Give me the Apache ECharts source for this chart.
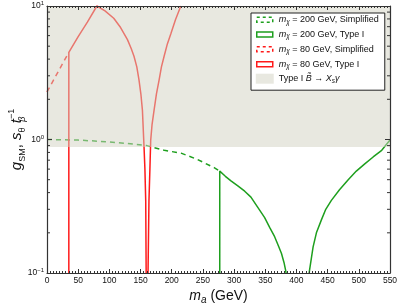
<!DOCTYPE html>
<html><head><meta charset="utf-8">
<script src="https://cdn.jsdelivr.net/npm/echarts@6/dist/echarts.min.js"></script>
<style>html,body{margin:0;padding:0;background:#fff}#c{width:399px;height:307px}</style>
</head><body><div id="c"></div>
<script>
// ---- data ----
var xTicks = [0, 550, 50];            // min, max, step
var yRange = [0.1, 10];
var yMinorTicks = [0.2,0.3,0.4,0.5,0.6,0.7,0.8,0.9,2,3,4,5,6,7,8,9];
var seriesNames = ['mχ = 200 GeV, Simplified','mχ = 200 GeV, Type I','mχ = 80 GeV, Simplified','mχ = 80 GeV, Type I','Type I B̃ → Xsγ'];
var green200Simplified = [[0,1.0],[50,0.99],[100,0.96],[142,0.92],[160,0.9],[188,0.83],[215,0.79],[241,0.71],[268,0.615],[277,0.58]];
var green200TypeI = [[277,0.1],[277,0.58],[286,0.53],[295,0.49],[306,0.45],[317,0.41],[327,0.37],[338,0.31],[349,0.26],[357,0.22],[365,0.187],[371,0.16],[376,0.14],[380,0.12],[382.6,0.105],[385,0.09],[402,0.01],
  [419,0.09],[421,0.105],[424,0.13],[426.7,0.157],[432,0.2],[440,0.25],[447,0.3],[456,0.35],[469,0.42],[483,0.5],[496,0.58],[510,0.66],[523,0.74],[536.7,0.83],[550,0.99]];
var red80Simplified = [[0,2.27],[35,4.5]];
var red80TypeI = [[35,0.1],[35,4.5],[50,5.9],[65,7.6],[80,10],[93,9.2],[107,8.1],[118,6.9],[129,5.6],[135,4.8],[139.5,4.2],[144,3.5],[147.5,2.8],[150.5,2.2],[153,1.66],[155.6,0.88],[157,0.6],[158.3,0.35],[159,0.1],[160.5,0.01],
  [162,0.1],[163.5,0.35],[165,0.6],[166.3,0.99],[168.5,1.3],[171.7,1.66],[175.5,2.2],[179.8,2.8],[183.5,3.5],[187.8,4.2],[193,5.2],[198.6,6.2],[206,7.9],[214.6,10]];
var shadedBand = [0.88, 10];

var RED = '#ff1a1a', GREEN = '#1e9f1e';
var FONT = 'Liberation Sans, Arial, sans-serif';
var chart = echarts.init(document.getElementById('c'), null, {renderer:'canvas'});

var legendRich = {
  i:{fontStyle:'italic', fontSize:9, fontFamily:FONT, color:'#111', lineHeight:11},
  s:{fontStyle:'italic', fontSize:6.5, fontFamily:FONT, color:'#111', lineHeight:6, verticalAlign:'bottom'},
  t:{fontSize:9, fontFamily:FONT, color:'#111', lineHeight:11}
};
function legendFmt(name){
  if (name.indexOf('Type I B') === 0) return '{t|Type I }{i|B̃}{t| → }{i|X}{s|s}{i|γ}';
  return '{i|m}{s|χ}{t|' + name.slice(2) + '}';
}
var outlineIcon = 'path://M0,0M1,2.5h16v5h-16zM18,10';

function axisCommon(){
  return {
    axisLine:{show:true, onZero:false, lineStyle:{color:'#333', width:1.2}},
    splitLine:{show:false},
    z:10
  };
}

var option = {
  animation:false,
  backgroundColor:'#fff',
  grid:{left:47, right:9, top:6, bottom:34, containLabel:false, outerBoundsMode:'none'},
  legend:{
    orient:'vertical', left:251, top:13, z:20,
    backgroundColor:'#fff', borderColor:'#222', borderWidth:1,
    padding:[1,6,6,4], itemGap:3.3, itemWidth:18, itemHeight:10,
    formatter:legendFmt,
    textStyle:{fontFamily:FONT, fontSize:9, color:'#111', lineHeight:11, rich:legendRich},
    data:[
      {name:seriesNames[0], icon:outlineIcon, itemStyle:{color:'transparent', borderColor:GREEN, borderWidth:1.5, borderType:[3,3]}},
      {name:seriesNames[1], icon:outlineIcon, itemStyle:{color:'transparent', borderColor:GREEN, borderWidth:1.5}},
      {name:seriesNames[2], icon:outlineIcon, itemStyle:{color:'transparent', borderColor:RED, borderWidth:1.5, borderType:[3,3]}},
      {name:seriesNames[3], icon:outlineIcon, itemStyle:{color:'transparent', borderColor:RED, borderWidth:1.5}},
      {name:seriesNames[4], icon:'rect', itemStyle:{color:'#e8e8e0', borderWidth:0}}
    ]
  },
  xAxis:[
    Object.assign(axisCommon(), {
      type:'value', position:'bottom', min:xTicks[0], max:xTicks[1], interval:xTicks[2],
      axisTick:{show:true, inside:true, length:4, lineStyle:{color:'#333'}},
      minorTick:{show:true, splitNumber:10, length:2, lineStyle:{color:'#333'}},
      axisLabel:{fontFamily:FONT, fontSize:8.5, color:'#111', margin:3},
      name:'{i|m}{s|a}{t| (GeV)}', nameLocation:'middle', nameGap:15, nameMoveOverlap:false,
      nameTextStyle:{rich:{
        i:{fontStyle:'italic', fontSize:14, fontFamily:FONT, color:'#111', lineHeight:17},
        s:{fontStyle:'italic', fontSize:10, fontFamily:FONT, color:'#111', lineHeight:9, verticalAlign:'bottom'},
        t:{fontSize:14, fontFamily:FONT, color:'#111', lineHeight:17}
      }}
    }),
    Object.assign(axisCommon(), {
      type:'value', position:'top', min:xTicks[0], max:xTicks[1], interval:xTicks[2],
      axisTick:{show:true, inside:true, length:4, lineStyle:{color:'#333'}},
      minorTick:{show:true, splitNumber:10, length:2, lineStyle:{color:'#333'}},
      axisLabel:{show:false}
    })
  ],
  yAxis:[
    Object.assign(axisCommon(), {
      type:'log', logBase:10, min:yRange[0], max:yRange[1], position:'left',
      axisTick:{show:true, inside:true, length:5, lineStyle:{color:'#333'}},
      axisLabel:{margin:3, fontFamily:FONT, fontSize:8.5, color:'#111',
        formatter:function(v){ var e = Math.round(Math.log10(v)); return '{b|10}{p|' + (e<0?'−'+(-e):e) + '}'; },
        rich:{b:{fontSize:8.5, fontFamily:FONT, color:'#111', lineHeight:11},
              p:{fontSize:6, fontFamily:FONT, color:'#111', lineHeight:6, verticalAlign:'top'}}},
      name:'{i|g}{s|SM}{t|, }{i|s}{s|θ}{t| }{i|t}{sb|β}{p|−1}', nameLocation:'middle', nameRotate:90, nameGap:20, nameMoveOverlap:false,
      nameTextStyle:{rich:{
        i:{fontStyle:'italic', fontSize:15, fontFamily:FONT, color:'#111', lineHeight:20},
        t:{fontSize:15, fontFamily:FONT, color:'#111', lineHeight:20},
        s:{fontSize:9, fontFamily:FONT, color:'#111', lineHeight:12, verticalAlign:'bottom'},
        sb:{fontStyle:'italic', fontSize:9, fontFamily:FONT, color:'#111', lineHeight:11, verticalAlign:'bottom', width:0.01, align:'left'},
        p:{fontSize:9, fontFamily:FONT, color:'#111', lineHeight:11, verticalAlign:'top'}
      }}
    }),
    Object.assign(axisCommon(), {
      type:'log', logBase:10, min:yRange[0], max:yRange[1], position:'right',
      axisTick:{show:true, inside:true, length:5, lineStyle:{color:'#333'}},
      axisLabel:{show:false}
    })
  ],
  series:[
    {name:seriesNames[0], type:'line', data:green200Simplified, showSymbol:false, symbol:'none', z:2,
     lineStyle:{color:GREEN, width:1.5, type:[5,4]}, itemStyle:{color:GREEN}},
    {name:seriesNames[1], type:'line', data:green200TypeI, showSymbol:false, symbol:'none', z:2,
     lineStyle:{color:GREEN, width:1.5}, itemStyle:{color:GREEN}},
    {name:seriesNames[2], type:'line', data:red80Simplified, showSymbol:false, symbol:'none', z:2,
     lineStyle:{color:RED, width:1.5, type:[5,4]}, itemStyle:{color:RED}},
    {name:seriesNames[3], type:'line', data:red80TypeI, showSymbol:false, symbol:'none', z:2,
     lineStyle:{color:RED, width:1.5}, itemStyle:{color:RED}},
    {name:seriesNames[4], type:'line', data:[], z:5, itemStyle:{color:'#e8e8e0'},
     markArea:{silent:true, z:5, itemStyle:{color:'rgba(209,209,193,0.5)', borderWidth:0},
       data:[[{coord:[xTicks[0], shadedBand[0]]},{coord:[xTicks[1], shadedBand[1]]}]]}},
    {type:'custom', z:11, silent:true, clip:false,
     data:yMinorTicks.map(function(v){return [xTicks[0], v];}),
     renderItem:function(params, api){
       var v = api.value(1);
       var l = api.coord([xTicks[0], v]), r = api.coord([xTicks[1], v]);
       return {type:'group', children:[
         {type:'line', shape:{x1:l[0], y1:l[1], x2:l[0]+3, y2:l[1]}, style:{stroke:'#333', lineWidth:1}},
         {type:'line', shape:{x1:r[0], y1:r[1], x2:r[0]-3, y2:r[1]}, style:{stroke:'#333', lineWidth:1}}
       ]};
     }}
  ]
};
chart.setOption(option);
</script></body></html>
